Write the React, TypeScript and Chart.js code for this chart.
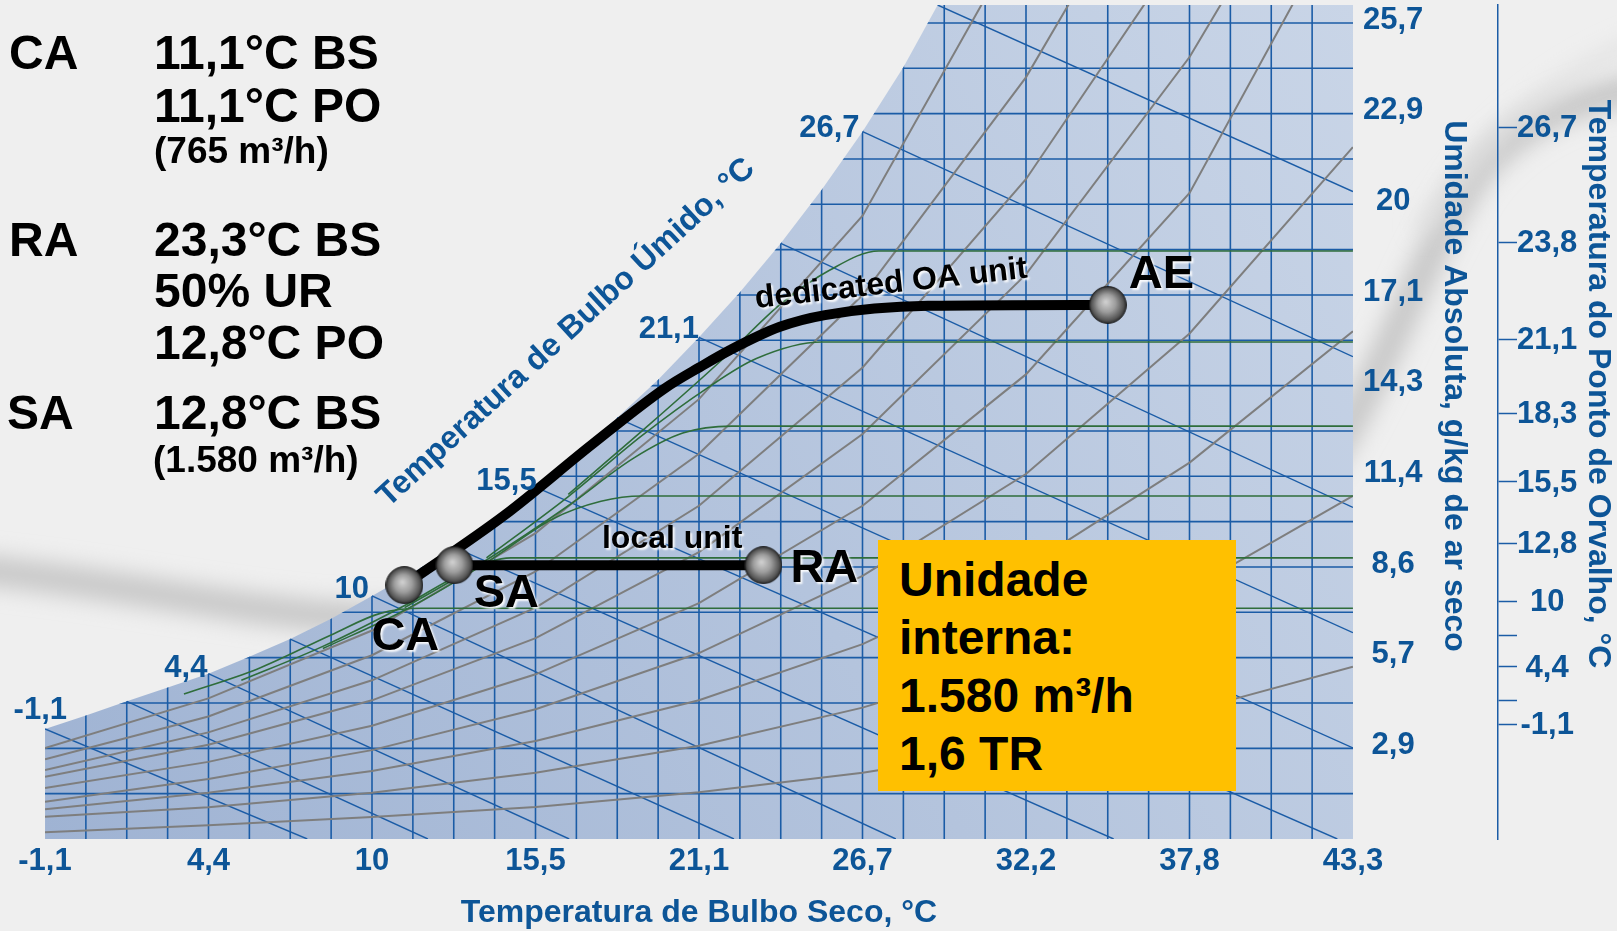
import React, { useEffect, useRef } from 'react';
import { Chart, registerables } from 'chart.js';

Chart.register(...registerables);

const FONT = "'Liberation Sans', Arial, Helvetica, sans-serif";
const AXIS_BLUE = '#0d5597';
const GRID_BLUE = '#1b5ca6';
const RH_GREY = '#7e7e7e';
const DP_GREEN = '#2f6d3b';

// ---- Axes -------------------------------------------------------------
// Dry bulb (°C): grid every 2.5 °F, labels every 10 °F
const dryBulbMin = -1.111;
const dryBulbMax = 43.333;
const dryBulbGridCount = 32;
const dryBulbLabels = ['-1,1', '4,4', '10', '15,5', '21,1', '26,7', '32,2', '37,8', '43,3'];

// Humidity ratio (g/kg dry air): grid every 10 gr/lb, labels every 20 gr/lb
const humidityMax = 26.28;
const humidityGridStep = 1.42857;
const humidityGridCount = 18;
const humidityLabels = ['2,9', '5,7', '8,6', '11,4', '14,3', '17,1', '20', '22,9', '25,7'];

// Dew point scale: where each dew point sits on the humidity axis
const dewPointHumidity = [22.42, 18.81, 15.74, 13.4, 11.25, 9.32, 7.49, 6.42, 5.42, 4.35, 3.61];
const dewPointLabels = ['26,7', '23,8', '21,1', '18,3', '15,5', '12,8', '10', '', '4,4', '', '-1,1'];

// ---- Saturation curve ------------------------------------------------------
const satTemp = [-1.11, 0.28, 1.67, 3.06, 4.44, 5.83, 7.22, 8.61, 10.0, 11.39, 12.78, 14.17, 15.56, 16.94, 18.33, 19.72, 21.11, 22.5, 23.89, 25.28, 26.67, 28.06, 29.22];
const satHum = [3.47, 3.89, 4.34, 4.77, 5.21, 5.74, 6.3, 6.94, 7.66, 8.4, 9.2, 10.1, 11.09, 12.11, 13.27, 14.47, 15.81, 17.23, 18.77, 20.46, 22.29, 24.33, 26.28];

// ---- Wet bulb lines (start on saturation, end at chart edge) ---------------
const wbStartT = [-1.11, 1.67, 4.44, 7.22, 10.0, 12.78, 15.56, 18.33, 21.11, 23.89, 26.67, 29.22];
const wbStartW = [3.47, 4.34, 5.21, 6.3, 7.66, 9.2, 11.09, 13.27, 15.81, 18.77, 22.29, 26.28];
const wbEndT = [7.8, 11.9, 16.7, 22.3, 27.8, 35.2, 42.8, 43.33, 43.33, 43.33, 43.33, 43.33];
const wbEndW = [0, 0, 0, 0, 0, 0, 0, 2.87, 6.5, 10.45, 15.2, 20.4];

const wbLabels = ['-1,1', '4,4', '10', '15,5', '21,1', '26,7'];
const wbLabelTemp = [-1.11, 4.44, 10.0, 15.56, 21.11, 26.67];
const wbLabelHum = [3.47, 5.21, 7.66, 11.09, 15.81, 22.29];

// ---- Relative humidity curves (10 % … 90 %) --------------------------------
const rhTemp = [-1.11, 4.44, 10.0, 15.56, 21.11, 26.67, 32.22, 37.78, 43.33];
const rh10 = [0.21, 0.43, 0.69, 1.01, 1.47, 2.09, 2.91, 4.03, 5.43];
const rh20 = [0.7, 1.0, 1.46, 2.09, 2.94, 4.14, 5.71, 7.86, 10.81];
const rh30 = [0.94, 1.46, 2.14, 3.09, 4.37, 6.14, 8.57, 11.86, 16.0];
const rh40 = [1.17, 1.89, 2.8, 4.09, 5.86, 8.29, 11.5, 15.93, 21.8];
const rh50 = [1.61, 2.43, 3.57, 5.19, 7.43, 10.5, 14.64, 20.36, 29.77];
const rh60 = [1.96, 2.97, 4.37, 6.33, 9.04, 12.76, 17.79, 24.64, 33.3];
const rh70 = [2.17, 3.36, 5.0, 7.29, 10.5, 14.86, 20.79, 28.4];
const rh80 = [2.51, 3.86, 5.79, 8.43, 12.14, 17.14, 24.0, 32.8];
const rh90 = [2.87, 4.43, 6.57, 9.64, 13.86, 19.64, 28.77];

// ---- Constant dew point guide lines ---------------------------------------
const g1T = [3.61, 6.11, 8.61, 10.28, 11.67, 43.33];
const g1W = [4.57, 5.36, 6.43, 7.11, 7.27, 7.27];
const g2T = [5.56, 8.33, 11.11, 13.06, 14.72, 43.33];
const g2W = [5.0, 6.07, 7.36, 8.36, 8.86, 8.86];
const g3T = [8.33, 11.11, 13.89, 16.11, 17.78, 19.17, 43.33];
const g3W = [6.0, 7.21, 8.71, 10.07, 10.64, 10.81, 10.81];
const g4T = [11.11, 13.89, 16.67, 18.89, 20.56, 22.22, 43.33];
const g4W = [7.29, 8.79, 10.5, 12.0, 12.79, 13.01, 13.01];
const g5T = [13.89, 16.67, 19.17, 21.39, 23.06, 25.28, 43.33];
const g5W = [8.86, 10.79, 12.71, 14.21, 15.14, 15.66, 15.66];
const g6T = [16.67, 19.44, 21.94, 23.89, 25.56, 27.22, 43.33];
const g6W = [10.86, 13.07, 15.14, 16.86, 17.93, 18.53, 18.53];

// ---- Air states and processes ---------------------------------------------
const stateNames = ['CA', 'SA', 'RA', 'AE'];
const stateTemp = [11.1, 12.8, 23.3, 35.0];
const stateHum = [8.0, 8.63, 8.63, 16.83];

const oaPathT = [11.1, 14.5, 17.5, 19.95, 21.14, 22.17, 23.86, 25.39, 28.89, 35.0];
const oaPathW = [8.0, 10.2, 12.45, 14.2, 14.87, 15.41, 16.14, 16.51, 16.8, 16.83];
const localPathT = [12.8, 23.3];
const localPathW = [8.63, 8.63];

// ---- Text -------------------------------------------------------------------
const xTitle = 'Temperatura de Bulbo Seco, °C';
const yTitle = 'Umidade Absoluta, g/kg de ar seco';
const y2Title = 'Temperatura do Ponto de Orvalho, °C';
const wbTitle = 'Temperatura de Bulbo Úmido, °C';
const localUnitText = 'local unit';
const oaUnitText = 'dedicated OA unit';

const panelText = ['CA', '11,1°C BS', '11,1°C PO', '(765 m³/h)', 'RA', '23,3°C BS', '50% UR', '12,8°C PO', 'SA', '12,8°C BS', '(1.580 m³/h)'];
const boxText = ['Unidade', 'interna:', '1.580 m³/h', '1,6 TR'];

// layout of the panel rows: [left, baseline, font size]
const panelLayout = [
  [9, 70, 48], [154, 70, 48], [154, 123, 48], [154, 163, 37],
  [9, 257, 48], [154, 257, 48], [154, 308, 48], [154, 360, 48],
  [7, 430, 48], [154, 430, 48], [153, 472, 37],
];

// label placement (pixels, relative to anchor)
const wbLabelOffset = [[22, -10], [-1, 3], [-3, 2], [1, 3], [0, 1], [-3, 5]];
const stateLabelStyle = [
  { dx: 1, dy: 52, align: 'center' },
  { dx: 52, dy: 29, align: 'center' },
  { dx: 27, dy: 4, align: 'left' },
  { dx: 21, dy: -30, align: 'left' },
];
const wbTitleAnchor = [10.55, 10.43];
const localUnitAnchor = [20.2, 9.17];
const oaUnitAnchor = [23.05, 16.73];

const pts = (t: number[], w: number[]) => w.map((v, i) => ({ x: t[i], y: v }));

const lineSet = (data: any[], color: string, width: number, order: number, extra: any = {}) => ({
  data,
  borderColor: color,
  borderWidth: width,
  pointRadius: 0,
  fill: false,
  tension: 0,
  order,
  ...extra,
});

function makeSphere(): HTMLCanvasElement {
  const c = document.createElement('canvas');
  c.width = 38;
  c.height = 38;
  const g = c.getContext('2d')!;
  const grad = g.createRadialGradient(17, 16, 1, 19, 19, 18.5);
  grad.addColorStop(0, '#cdcdcd');
  grad.addColorStop(0.45, '#9d9d9d');
  grad.addColorStop(0.85, '#565656');
  grad.addColorStop(1, '#2a2a2a');
  g.fillStyle = grad;
  g.beginPath();
  g.arc(19, 19, 18.5, 0, Math.PI * 2);
  g.fill();
  g.strokeStyle = 'rgba(20,20,20,0.8)';
  g.lineWidth = 1;
  g.stroke();
  return c;
}

// Grid is drawn only under the saturation curve, right after the chart fill
const saturationGrid = {
  id: 'saturationGrid',
  afterDatasetDraw(chart: any, args: any) {
    if (args.index !== 0) return;
    const { ctx, chartArea: a, scales } = chart;
    const x = scales.x;
    const y = scales.y;
    ctx.save();
    ctx.beginPath();
    satTemp.forEach((t, i) => {
      const px = x.getPixelForValue(t);
      const py = y.getPixelForValue(satHum[i]);
      if (i === 0) ctx.moveTo(px, py);
      else ctx.lineTo(px, py);
    });
    ctx.lineTo(a.right, a.top);
    ctx.lineTo(a.right, a.bottom);
    ctx.lineTo(a.left, a.bottom);
    ctx.closePath();
    ctx.clip();
    ctx.strokeStyle = GRID_BLUE;
    ctx.lineWidth = 1.6;
    ctx.beginPath();
    x.ticks.forEach((tk: any, i: number) => {
      if (i === 0 || i === x.ticks.length - 1) return;
      const px = x.getPixelForValue(tk.value);
      ctx.moveTo(px, a.top);
      ctx.lineTo(px, a.bottom);
    });
    y.ticks.forEach((tk: any) => {
      const py = y.getPixelForValue(tk.value);
      ctx.moveTo(a.left, py);
      ctx.lineTo(a.right, py);
    });
    ctx.stroke();
    ctx.restore();
  },
};

// Curve labels, state names, process names and the vertical axis titles
const chartText = {
  id: 'chartText',
  afterDatasetsDraw(chart: any) {
    const { ctx, chartArea: a, scales } = chart;
    const px = (t: number) => scales.x.getPixelForValue(t);
    const py = (w: number) => scales.y.getPixelForValue(w);
    ctx.save();

    ctx.fillStyle = AXIS_BLUE;
    ctx.font = `bold 31px ${FONT}`;
    ctx.textAlign = 'right';
    ctx.textBaseline = 'alphabetic';
    wbLabels.forEach((s, i) => {
      const o = wbLabelOffset[i];
      ctx.fillText(s, px(wbLabelTemp[i]) + o[0], py(wbLabelHum[i]) + o[1]);
    });

    ctx.save();
    ctx.translate(px(wbTitleAnchor[0]), py(wbTitleAnchor[1]));
    ctx.rotate((-42.5 * Math.PI) / 180);
    ctx.textAlign = 'left';
    ctx.font = `bold 32px ${FONT}`;
    ctx.fillText(wbTitle, 0, 0);
    ctx.restore();

    ctx.font = `bold 32px ${FONT}`;
    ctx.textAlign = 'center';
    ctx.textBaseline = 'middle';
    ctx.save();
    ctx.translate(scales.y.left + 101, a.top + 381);
    ctx.rotate(Math.PI / 2);
    ctx.fillText(yTitle, 0, 0);
    ctx.restore();
    ctx.save();
    ctx.translate(scales.y2.left + 100, a.top + 379);
    ctx.rotate(Math.PI / 2);
    ctx.fillText(y2Title, 0, 0);
    ctx.restore();

    ctx.shadowColor = 'rgba(255,255,255,0.9)';
    ctx.shadowOffsetX = 2;
    ctx.shadowOffsetY = 2;
    ctx.shadowBlur = 2;
    ctx.fillStyle = '#000';

    ctx.font = `bold 32px ${FONT}`;
    ctx.textAlign = 'center';
    ctx.textBaseline = 'alphabetic';
    ctx.fillText(localUnitText, px(localUnitAnchor[0]), py(localUnitAnchor[1]));

    ctx.save();
    ctx.translate(px(oaUnitAnchor[0]), py(oaUnitAnchor[1]));
    ctx.rotate((-6.4 * Math.PI) / 180);
    ctx.textAlign = 'left';
    ctx.font = `bold 32px ${FONT}`;
    ctx.fillText(oaUnitText, 0, 0);
    ctx.restore();

    ctx.font = `bold 47px ${FONT}`;
    ctx.textBaseline = 'middle';
    stateNames.forEach((s, i) => {
      const st = stateLabelStyle[i];
      ctx.textAlign = st.align;
      ctx.fillText(s, px(stateTemp[i]) + st.dx, py(stateHum[i]) + st.dy);
    });
    ctx.restore();
  },
};

export default function App() {
  const canvasRef = useRef<HTMLCanvasElement>(null);

  useEffect(() => {
    const sphere = makeSphere();
    const gridStep = (dryBulbMax - dryBulbMin) / dryBulbGridCount;
    const tickFont = { family: FONT, size: 31, weight: 'bold' as const };
    const noPadding = () => ({ left: 0, top: 0, right: 0, bottom: 0 });

    const datasets: any[] = [];
    // 0: area under the saturation curve
    datasets.push({
      data: [...pts(satTemp, satHum), { x: dryBulbMax, y: humidityMax }],
      borderWidth: 0,
      borderColor: 'rgba(0,0,0,0)',
      pointRadius: 0,
      tension: 0,
      fill: 'origin',
      order: 100,
      backgroundColor: (c: any) => {
        const area = c.chart.chartArea;
        if (!area) return '#b4c4dd';
        const g = c.chart.ctx.createLinearGradient(area.left, area.bottom, area.right, area.top);
        g.addColorStop(0, '#9fb3d3');
        g.addColorStop(0.5, '#b4c4dd');
        g.addColorStop(1, '#c9d5e7');
        return g;
      },
    });
    wbStartT.forEach((t, i) => {
      datasets.push(lineSet([{ x: t, y: wbStartW[i] }, { x: wbEndT[i], y: wbEndW[i] }], GRID_BLUE, 1.4, 60));
    });
    [rh10, rh20, rh30, rh40, rh50, rh60, rh70, rh80, rh90].forEach((w) => {
      datasets.push(lineSet(pts(rhTemp, w), RH_GREY, 2, 50));
    });
    [[g1T, g1W], [g2T, g2W], [g3T, g3W], [g4T, g4W], [g5T, g5W], [g6T, g6W]].forEach(([t, w]) => {
      datasets.push(lineSet(pts(t, w), DP_GREEN, 1.6, 40, { cubicInterpolationMode: 'monotone' }));
    });
    datasets.push(lineSet(pts(oaPathT, oaPathW), '#000', 10, 10, {
      cubicInterpolationMode: 'monotone', borderCapStyle: 'round', borderJoinStyle: 'round',
    }));
    datasets.push(lineSet(pts(localPathT, localPathW), '#000', 10, 10, { borderCapStyle: 'round' }));
    datasets.push({
      data: pts(stateTemp, stateHum),
      showLine: false,
      pointStyle: sphere,
      pointRadius: 18,
      pointBorderWidth: 0,
      order: 0,
      clip: false,
    });

    const chart = new Chart(canvasRef.current!, {
      type: 'line',
      data: { datasets },
      plugins: [saturationGrid, chartText],
      options: {
        animation: false,
        responsive: true,
        maintainAspectRatio: false,
        events: [],
        layout: { autoPadding: false, padding: { left: 45, top: 5, right: 0, bottom: 0 } },
        plugins: { legend: { display: false }, tooltip: { enabled: false } },
        scales: {
          x: {
            type: 'linear',
            position: 'bottom',
            min: dryBulbMin,
            max: dryBulbMax,
            grid: { display: false, drawTicks: false },
            border: { display: false },
            afterBuildTicks: (s: any) => {
              const ticks = [];
              for (let i = 0; i <= dryBulbGridCount; i++) ticks.push({ value: dryBulbMin + i * gridStep });
              s.ticks = ticks;
            },
            afterFit: (s: any) => {
              s.height = 92;
              s.paddingLeft = 0;
              s.paddingRight = 0;
              s.getPadding = noPadding;
            },
            ticks: {
              autoSkip: false,
              maxRotation: 0,
              minRotation: 0,
              padding: 4,
              color: AXIS_BLUE,
              font: tickFont,
              callback: (_v: any, i: number) => (i % 4 === 0 ? dryBulbLabels[i / 4] : ''),
            },
            title: {
              display: true,
              text: xTitle,
              color: AXIS_BLUE,
              font: { family: FONT, size: 32, weight: 'bold', lineHeight: 1.1 },
              padding: { top: 0, bottom: 0 },
            },
          },
          y: {
            type: 'linear',
            position: 'right',
            weight: 1,
            min: 0,
            max: humidityMax,
            grid: { display: false, drawTicks: false },
            border: { display: false },
            afterBuildTicks: (s: any) => {
              const ticks = [];
              for (let k = 1; k <= humidityGridCount; k++) ticks.push({ value: k * humidityGridStep });
              s.ticks = ticks;
            },
            afterFit: (s: any) => {
              s.width = 145;
              s.paddingTop = 0;
              s.paddingBottom = 0;
              s.getPadding = noPadding;
            },
            ticks: {
              autoSkip: false,
              padding: 10,
              crossAlign: 'center',
              labelOffset: -3,
              color: AXIS_BLUE,
              font: tickFont,
              callback: (_v: any, i: number) => (i % 2 === 1 ? humidityLabels[(i - 1) / 2] : ''),
            },
          },
          y2: {
            type: 'linear',
            position: 'right',
            weight: 2,
            min: 0,
            max: humidityMax,
            grid: {
              display: true,
              drawOnChartArea: false,
              drawTicks: true,
              tickLength: 19,
              tickWidth: 1.5,
              tickColor: GRID_BLUE,
              color: GRID_BLUE,
            },
            border: { display: true, color: GRID_BLUE, width: 1.5 },
            afterBuildTicks: (s: any) => {
              s.ticks = dewPointHumidity.map((v) => ({ value: v }));
            },
            afterFit: (s: any) => {
              s.width = 119;
              s.paddingTop = 0;
              s.paddingBottom = 0;
              s.getPadding = noPadding;
            },
            ticks: {
              autoSkip: false,
              padding: 0,
              crossAlign: 'center',
              labelOffset: 1,
              color: AXIS_BLUE,
              font: tickFont,
              callback: (_v: any, i: number) => dewPointLabels[i],
            },
          },
        },
      } as any,
    });
    return () => chart.destroy();
  }, []);

  const textBase = { position: 'absolute' as const, fontFamily: FONT, fontWeight: 'bold' as const, lineHeight: 1, whiteSpace: 'nowrap' as const, color: '#000' };

  return (
    <div style={{ position: 'fixed', left: 0, top: 0, width: '100vw', height: '100vh', overflow: 'hidden', background: '#efefef' }}>
      <svg width="1617" height="931" style={{ position: 'absolute', left: 0, top: 0 }}>
        <defs>
          <filter id="softBand" filterUnits="userSpaceOnUse" x="-200" y="-200" width="2017" height="1331">
            <feGaussianBlur stdDeviation="11" />
          </filter>
        </defs>
        <path
          d="M -60 566 C 100 580, 220 608, 330 616 C 700 640, 1150 640, 1300 500 C 1380 400, 1420 250, 1480 170 C 1530 112, 1590 94, 1680 82"
          fill="none"
          stroke="#c8c8c8"
          strokeWidth="30"
          filter="url(#softBand)"
        />
        <path
          d="M 1420 230 C 1470 170, 1530 70, 1680 30"
          fill="none"
          stroke="#e0e0e0"
          strokeWidth="14"
          filter="url(#softBand)"
        />
      </svg>
      <div style={{ position: 'absolute', left: 0, top: 0, width: '100%', height: '100%' }}>
        <canvas ref={canvasRef} />
      </div>
      {panelText.map((s, i) => {
        const [left, base, size] = panelLayout[i];
        return (
          <div key={i} style={{ ...textBase, left, top: base - 0.8465 * size, fontSize: size }}>
            {s}
          </div>
        );
      })}
      <div style={{ position: 'absolute', left: 878, top: 540, width: 358, height: 251, background: '#ffc000' }}>
        {boxText.map((s, i) => (
          <div key={i} style={{ ...textBase, left: 21, top: 57 + i * 58 - 0.8465 * 48, fontSize: 48 }}>
            {s}
          </div>
        ))}
      </div>
    </div>
  );
}
